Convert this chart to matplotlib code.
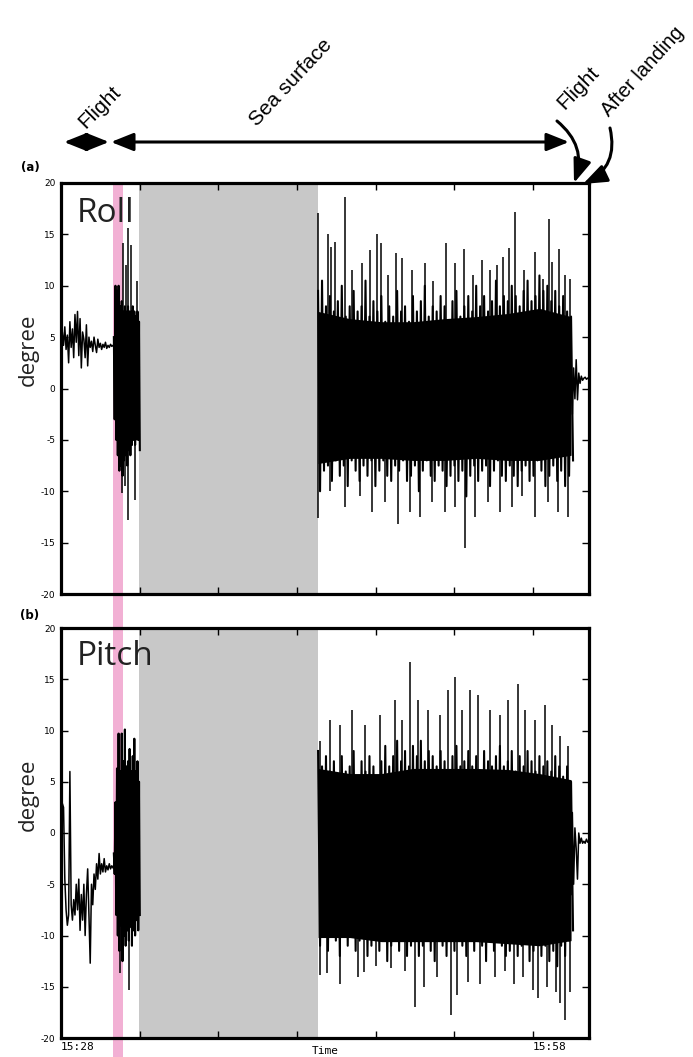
import numpy as np
import matplotlib
matplotlib.use("Agg")
import matplotlib.pyplot as plt
from matplotlib.patches import FancyArrowPatch, Rectangle
from matplotlib import transforms

# ------------------------------------------------------------------ data
# time axis in minutes after 15:28
time_ticks = [0, 5, 10, 15, 20, 25, 30]
time_tick_labels = ["15:28", "", "", "", "", "", "15:58"]
x_max = 33.56
y_ticks = [-20, -15, -10, -5, 0, 5, 10, 15, 20]
pink_span = (3.31, 3.94)      # take-off / landing moment
gray_span = (4.96, 16.34)     # no data

# ---- Roll ----
roll_flight = [-1.5, 5.5, 4.2, 6.0, 3.8, 5.2, 2.5, 6.5, 4.0, 5.8, 3.0, 7.2, 4.5, 7.5,
               3.2, 6.8, 2.0, 5.5, 4.8, 3.0, 6.2, 2.2, 5.0, 4.0, 4.6, 3.6, 5.0, 4.2,
               3.5, 4.8, 4.0, 4.4, 3.8, 4.3, 4.0, 4.5, 3.9, 4.2, 4.0, 4.3, 4.1, 4.2]
roll_burst_upper = [5.0, 10.0, 9.5, 10.0, 8.0, 8.5, 7.5, 8.0, 7.5, 8.0, 7.5, 7.5, 8.0, 7.5, 7.0, 7.5, 6.5]
roll_burst_lower = [-3.0, -5.0, -6.5, -8.0, -7.5, -8.5, -7.0, -6.5, -7.5, -6.0, -6.5, -5.5, -5.0, -5.5, -4.5, -5.0, -6.0]
roll_burst_core_upper = [3.5, 7.5, 7.0, 7.0, 6.5]
roll_burst_core_lower = [-2.5, -6.5, -6.0, -5.0, -5.0]
roll_burst_spk_t = [3.94, 4.13, 4.26, 4.45, 4.83, 3.88, 4.07, 4.26, 4.70]
roll_burst_spk_v = [14.2, 12.0, 15.6, 14.0, 10.5, -10.2, -9.5, -12.8, -10.9]
roll_sea_upper = [9.5, 10.5, 8.0, 9.0, 7.5, 8.5, 10.0, 7.0, 8.0, 9.5, 7.5, 8.0, 10.5, 7.0, 8.5,
                  7.5, 9.0, 6.5, 8.0, 7.0, 9.5, 7.5, 8.0, 6.5, 9.0, 7.5, 8.5, 10.0, 7.0, 8.0,
                  7.5, 9.0, 8.0, 6.5, 8.5, 9.5, 7.0, 8.0, 9.0, 7.5, 10.0, 8.0, 9.0, 7.5, 8.5,
                  10.5, 8.0, 9.0, 8.5, 10.0, 9.0, 8.0, 9.5, 10.5, 8.5, 9.0, 11.0, 9.5, 10.0,
                  8.5, 9.5, 8.0, 9.0, 7.5, 7.0]
roll_sea_lower = [-10.0, -8.0, -7.5, -9.0, -7.0, -8.5, -7.5, -9.5, -7.0, -8.0, -9.0, -7.5, -8.5,
                  -7.0, -9.5, -8.0, -7.0, -8.5, -9.0, -7.5, -8.0, -7.0, -9.0, -8.5, -7.5, -10.0,
                  -8.0, -7.0, -8.5, -9.0, -7.5, -8.0, -9.5, -8.5, -7.5, -9.0, -8.0, -10.5, -8.5,
                  -7.5, -9.0, -8.0, -7.5, -9.5, -8.0, -7.0, -8.5, -9.0, -7.5, -8.5, -9.5, -8.0,
                  -7.5, -9.0, -8.5, -7.0, -8.0, -9.5, -8.5, -7.5, -9.0, -8.0, -9.5, -8.5, -7.0]
roll_sea_core_upper = [7.5, 6.8, 6.5, 6.5, 6.8, 7.0, 7.3, 7.8, 7.0]
roll_sea_core_lower = [-7.3, -6.8, -6.8, -7.0, -7.0, -6.8, -7.0, -7.0, -6.5]
roll_sea_up_t = [16.34, 16.97, 17.16, 17.42, 18.05, 18.50, 19.14, 19.64, 20.09, 20.34, 20.79,
                 21.30, 21.68, 22.31, 23.14, 23.65, 24.48, 25.05, 25.62, 26.19, 26.76, 27.27,
                 27.72, 28.10, 28.48, 28.86, 29.43, 30.13, 30.64, 31.02, 31.21, 31.66, 32.04, 32.36]
roll_sea_up_v = [17.1, 15.0, 13.8, 14.3, 18.6, 11.5, 12.2, 13.5, 15.0, 14.2, 11.0, 13.2, 12.7,
                 11.5, 12.2, 10.5, 14.2, 12.2, 13.6, 11.0, 12.5, 11.5, 12.0, 12.8, 13.7, 17.2,
                 11.5, 13.3, 10.7, 16.5, 12.3, 13.6, 11.0, 10.7]
roll_sea_dn_t = [16.34, 17.10, 18.05, 19.01, 19.77, 20.60, 21.43, 22.19, 22.82, 23.58, 24.41,
                 25.05, 25.68, 26.32, 27.15, 27.91, 28.67, 29.31, 30.13, 30.96, 31.59, 32.23]
roll_sea_dn_v = [-12.6, -10.0, -11.5, -10.5, -12.0, -11.0, -13.2, -12.0, -12.5, -11.0, -12.0,
                 -11.5, -15.5, -12.5, -11.0, -12.0, -11.5, -10.5, -12.5, -11.0, -12.0, -12.5]
roll_after = [3.0, -2.5, 2.0, -1.0, 2.8, -1.1, 1.5, 0.5, 1.2, 0.8, 1.0, 1.1, 0.9, 1.0, 1.1]

# ---- Pitch ----
pitch_flight = [2.8, 2.9, 2.5, -4.5, -7.5, -9.0, -8.0, 6.0, -7.0, -8.5, -6.5, -8.0, -5.0, -7.5,
                -4.5, -9.5, -6.0, -8.5, -5.0, -10.0, -6.0, -3.5, -8.0, -12.7, -5.0, -7.0, -4.0,
                -5.5, -3.0, -4.5, -2.0, -4.0, -3.0, -3.8, -2.5, -3.8, -3.2, -3.6, -3.0, -3.5,
                -3.2, -3.4]
pitch_burst_upper = [-2.0, 3.0, 6.3, 9.7, 6.0, 9.7, 7.0, 10.1, 6.5, 7.0, 8.2, 6.0, 7.5, 9.2, 6.0, 7.0, 5.0]
pitch_burst_lower = [-4.0, -8.0, -10.0, -11.5, -9.0, -12.5, -10.0, -11.0, -9.5, -10.5, -9.0,
                     -11.0, -9.5, -10.0, -8.5, -9.5, -8.0]
pitch_burst_core_upper = [-3.0, 5.5, 6.0, 6.0, 5.0]
pitch_burst_core_lower = [-3.5, -9.0, -9.5, -9.0, -8.0]
pitch_burst_spk_t = [3.75, 4.32]
pitch_burst_spk_v = [-13.7, -15.3]
pitch_sea_upper = [8.0, 6.5, 7.5, 6.0, 7.0, 5.5, 7.5, 6.0, 6.5, 8.0, 5.5, 7.0, 6.0, 7.5, 6.5,
                   5.5, 7.0, 8.5, 6.5, 7.5, 9.0, 7.0, 8.0, 6.5, 8.5, 7.5, 9.0, 7.0, 8.0, 7.5,
                   6.5, 8.0, 7.0, 6.0, 7.5, 8.5, 6.5, 7.0, 8.0, 6.5, 7.5, 6.0, 8.0, 7.0, 6.5,
                   7.5, 8.5, 6.5, 7.0, 8.0, 6.0, 7.5, 6.5, 8.0, 7.0, 6.0, 7.5, 6.5, 7.0, 6.0,
                   7.5, 6.5, 5.5, 6.5, 5.0]
pitch_sea_lower = [-11.0, -10.0, -11.5, -9.5, -10.5, -12.0, -10.0, -11.0, -9.5, -11.5, -10.5,
                   -10.0, -12.0, -11.0, -10.0, -11.5, -10.5, -12.5, -11.0, -10.0, -11.5, -10.5,
                   -12.0, -11.0, -10.5, -12.0, -11.0, -10.0, -11.5, -12.5, -10.5, -11.0, -12.0,
                   -10.5, -11.5, -10.0, -11.0, -12.0, -10.5, -11.5, -10.0, -11.0, -12.5, -10.5,
                   -11.5, -10.0, -11.0, -12.0, -11.5, -10.5, -12.0, -11.0, -10.5, -12.5, -11.5,
                   -10.5, -12.0, -11.0, -12.5, -11.5, -13.0, -11.0, -12.0, -10.5, -9.5]
pitch_sea_core_upper = [6.3, 5.8, 5.8, 6.3, 6.3, 6.3, 6.2, 5.8, 5.2]
pitch_sea_core_lower = [-10.2, -10.2, -10.6, -10.6, -10.6, -10.6, -10.8, -11.0, -10.5]
pitch_sea_up_t = [16.46, 17.10, 17.74, 18.50, 19.33, 20.28, 21.23, 21.68, 22.19, 22.69, 23.33,
                  24.09, 24.60, 25.05, 25.49, 26.00, 26.51, 27.27, 27.91, 28.42, 29.05, 29.50,
                  30.13, 30.77, 31.21, 31.72, 32.23]
pitch_sea_up_v = [9.0, 11.0, 10.5, 12.0, 10.5, 11.5, 13.0, 11.0, 16.7, 13.0, 12.0, 11.5, 14.0,
                  15.2, 12.0, 14.0, 13.5, 12.0, 11.5, 13.0, 14.5, 12.0, 11.0, 12.5, 10.5, 9.5, 8.5]
pitch_sea_dn_t = [16.46, 16.91, 17.74, 18.88, 19.26, 20.03, 20.98, 21.87, 22.50, 23.08, 23.90,
                  24.79, 25.18, 25.87, 26.64, 27.59, 28.23, 28.80, 29.37, 30.01, 30.32, 30.90,
                  31.47, 31.72, 32.04, 32.36]
pitch_sea_dn_v = [-13.9, -13.7, -14.7, -14.0, -13.6, -13.0, -13.2, -13.5, -17.0, -15.0, -14.0,
                  -17.8, -15.8, -14.5, -14.7, -14.0, -13.5, -14.7, -14.0, -15.3, -16.1, -15.0,
                  -15.5, -16.6, -18.2, -15.5]
pitch_after = [-6.0, 2.0, -5.0, 0.5, -1.5, -4.5, 0.0, -1.0, -0.5, -1.0, -0.8, -1.0, -0.6, -0.9, -0.8]

# time grids of each recorded stretch
t_flight = np.linspace(0.0, 3.31, len(roll_flight))
t_burst = np.linspace(3.36, 4.96, len(roll_burst_upper))
t_burst_core = np.linspace(3.36, 4.96, len(roll_burst_core_upper))
t_sea = np.linspace(16.34, 32.42, len(roll_sea_upper))
t_sea_core = np.linspace(16.34, 32.42, len(roll_sea_core_upper))
t_after = np.linspace(32.42, 33.56, len(roll_after))

# ------------------------------------------------------------------ figure
W, H = 693, 1057
fig = plt.figure(figsize=(W / 100, H / 100), dpi=100)


def fx(px):
    return px / W


def fy(py):
    return 1 - py / H


ax_l, ax_r = 61, 589
ax_a = fig.add_axes([fx(ax_l), fy(594), fx(ax_r) - fx(ax_l), fy(183) - fy(594)])
ax_b = fig.add_axes([fx(ax_l), fy(1038), fx(ax_r) - fx(ax_l), fy(628) - fy(1038)])

PINK = "#f2b0d4"
GRAY = "#c8c8c8"


def dense(ax, t, upper, lower, tc, cu, cl):
    """dense oscillation: solid core plus per-bin extremes drawn as a zigzag trace"""
    t = np.asarray(t)
    dt = t[1] - t[0]
    ax.fill_between(tc, cl, cu, color="k", lw=0, zorder=3)
    tz = np.column_stack([t, t + dt / 2]).ravel()
    vz = np.column_stack([upper, lower]).ravel()
    ax.plot(tz, vz, color="k", lw=1.5, zorder=3)


def draw_panel(ax, flight, bu, bl, bcu, bcl, bst, bsv, su, sl, scu, scl,
               sut, suv, sdt, sdv, after, base):
    ax.set_facecolor("none")
    ax.axvspan(*gray_span, color=GRAY, lw=0, zorder=0)
    ax.plot(t_flight, flight, color="k", lw=1.1, zorder=3)
    dense(ax, t_burst, bu, bl, t_burst_core, bcu, bcl)
    ax.vlines(bst, base, bsv, color="k", lw=1.1, zorder=3)
    dense(ax, t_sea, su, sl, t_sea_core, scu, scl)
    ax.vlines(sut, base, suv, color="k", lw=1.1, zorder=3)
    ax.vlines(sdt, base, sdv, color="k", lw=1.1, zorder=3)
    ax.plot(t_after, after, color="k", lw=1.1, zorder=3)
    ax.set_xlim(0, x_max)
    ax.set_ylim(-20, 20)
    ax.set_yticks(y_ticks)
    ax.set_yticklabels([str(v) for v in y_ticks], fontsize=6.5, family="DejaVu Sans")
    ax.set_xticks(time_ticks)
    ax.tick_params(direction="in", length=5, width=1, top=True, right=True, pad=4)
    for s in ax.spines.values():
        s.set_linewidth(2.3)
        s.set_zorder(5)


draw_panel(ax_a, roll_flight, roll_burst_upper, roll_burst_lower, roll_burst_core_upper,
           roll_burst_core_lower, roll_burst_spk_t, roll_burst_spk_v, roll_sea_upper,
           roll_sea_lower, roll_sea_core_upper, roll_sea_core_lower, roll_sea_up_t,
           roll_sea_up_v, roll_sea_dn_t, roll_sea_dn_v, roll_after, 0.0)
draw_panel(ax_b, pitch_flight, pitch_burst_upper, pitch_burst_lower, pitch_burst_core_upper,
           pitch_burst_core_lower, pitch_burst_spk_t, pitch_burst_spk_v, pitch_sea_upper,
           pitch_sea_lower, pitch_sea_core_upper, pitch_sea_core_lower, pitch_sea_up_t,
           pitch_sea_up_v, pitch_sea_dn_t, pitch_sea_dn_v, pitch_after, -3.0)

ax_a.set_xticklabels([])
ax_b.set_xticklabels(time_tick_labels, family="DejaVu Sans Mono", fontsize=8, ha="left")
ax_b.tick_params(axis="x", pad=3)

# pink band running from the top of panel (a) to the bottom of the figure
trans = transforms.blended_transform_factory(ax_a.transData, fig.transFigure)
fig.add_artist(Rectangle((pink_span[0], 0), pink_span[1] - pink_span[0], fy(183),
                         transform=trans, color=PINK, lw=0, zorder=-1))

# panel texts
ax_a.text(0.03, 0.905, "Roll", transform=ax_a.transAxes, fontsize=24, family="Open Sans",
          color="#222222", va="baseline", ha="left", zorder=6)
ax_b.text(0.03, 0.91, "Pitch", transform=ax_b.transAxes, fontsize=24, family="Open Sans",
          color="#222222", va="baseline", ha="left", zorder=6)
fig.text(fx(28), fy(350), "degree", rotation=90, fontsize=16, family="Open Sans",
         color="#222222", ha="center", va="center")
fig.text(fx(28), fy(795), "degree", rotation=90, fontsize=16, family="Open Sans",
         color="#222222", ha="center", va="center")
fig.text(fx(30), fy(167), "(a)", fontsize=8.5, fontweight="bold", ha="center", va="center")
fig.text(fx(30), fy(616), "(b)", fontsize=8.5, fontweight="bold", ha="center", va="center")
fig.text(fx(325), fy(1051), "Time", family="DejaVu Sans Mono", fontsize=8,
         ha="center", va="center")


# top annotations
def arrow(p0, p1, style, rad=0.0, ms=16):
    a = FancyArrowPatch((fx(p0[0]), fy(p0[1])), (fx(p1[0]), fy(p1[1])),
                        transform=fig.transFigure, arrowstyle=style,
                        connectionstyle=f"arc3,rad={rad}", mutation_scale=ms,
                        color="k", lw=2.2, shrinkA=0, shrinkB=0)
    fig.add_artist(a)


arrow((64, 142), (109, 142), "<|-|>,head_length=0.85,head_width=0.34")
arrow((111, 142), (569, 142), "<|-|>,head_length=0.85,head_width=0.34")
arrow((557, 121), (574, 183), "-|>,head_length=0.9,head_width=0.34", rad=-0.35)
arrow((610, 128), (583, 184), "-|>,head_length=0.9,head_width=0.34", rad=-0.4)

tkw = dict(fontsize=15, family="Liberation Sans", ha="center", va="center",
           rotation_mode="anchor")
fig.text(fx(100), fy(107), "Flight", rotation=45, **tkw)
fig.text(fx(291), fy(83), "Sea surface", rotation=47, **tkw)
fig.text(fx(578), fy(88), "Flight", rotation=46, **tkw)
fig.text(fx(643), fy(72), "After landing", rotation=48, **dict(tkw, fontsize=14.5))

fig.savefig("out.png", dpi=100)
